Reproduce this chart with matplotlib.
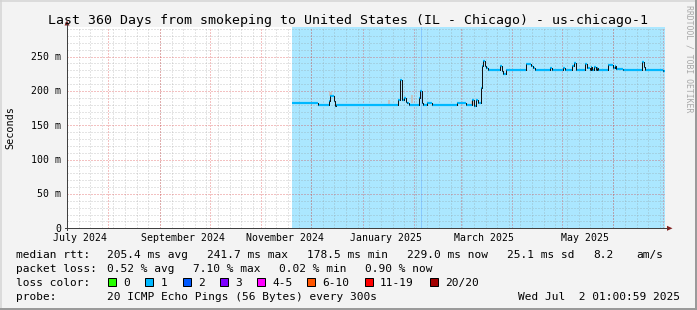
import datetime as dt
import matplotlib
matplotlib.use("Agg")
import matplotlib.pyplot as plt
from matplotlib.patches import Rectangle, Polygon
from matplotlib.lines import Line2D

# ---------------- data ----------------
title = "Last 360 Days from smokeping to United States (IL - Chicago) - us-chicago-1"
y_label = "Seconds"
side_label = "RRDTOOL / TOBI OETIKER"
y_ticks = [0, 50, 100, 150, 200, 250]
y_tick_labels = ["0", "50 m", "100 m", "150 m", "200 m", "250 m"]
x_label_months = [(2024, 7), (2024, 9), (2024, 11), (2025, 1), (2025, 3), (2025, 5)]
x_tick_labels = ["July 2024", "September 2024", "November 2024",
                 "January 2025", "March 2025", "May 2025"]

# median rtt (ms), step changes: day offset from graph start -> value
med_days = [135.3, 151.3, 157.9, 158.3, 160.8, 161.4, 161.8,
            199.5, 200.5, 201.7, 203.0, 204.1, 204.9, 206.0,
            212.1, 212.5, 213.5, 214.5, 216.6, 219.6,
            235.0, 240.2, 243.6, 245.0, 246.2, 247.2, 249.2, 249.6, 250.3, 251.5, 252.5, 253.5,
            260.7, 261.7, 262.5, 264.1, 276.4, 279.3, 280.5, 281.8, 290.8, 292.0,
            298.6, 299.8, 304.0, 305.2, 306.4, 311.9, 313.1, 314.9, 315.5, 316.1,
            317.3, 318.5, 319.1, 319.7, 325.7, 328.7, 329.9, 330.5, 334.7,
            346.1, 347.3, 347.9, 358.5]
med_ms = [183.0, 180.0, 186.0, 192.0, 185.0, 178.5, 179.7,
          187.0, 216.0, 187.0, 189.0, 184.0, 182.0, 179.7,
          190.0, 200.0, 183.0, 179.7, 182.0, 179.7,
          182.3, 179.7, 187.0, 178.5, 187.0, 182.0, 204.0, 236.0, 243.0, 236.0, 233.0, 230.7,
          235.6, 229.0, 225.0, 230.5, 239.5, 236.6, 233.3, 230.5, 233.5, 230.5,
          233.0, 230.5, 236.0, 240.6, 230.5, 239.5, 233.5, 230.0, 235.0, 231.0,
          234.5, 230.0, 233.0, 230.0, 237.0, 233.5, 236.0, 232.0, 230.0,
          241.7, 235.0, 230.0, 229.0]
data_end_day = 360.0

# smoke (rtt spread) visible above the median at a few places
smoke_days = [158.5, 193.9, 207.7, 244.0]
smoke_lo = [192.0, 180.0, 182.0, 180.0]
smoke_hi = [199.0, 187.0, 194.0, 186.0]

# loss background: loss "2" column
loss2_days = [213.5]

loss_labels = ["0", "1", "2", "3", "4-5", "6-10", "11-19", "20/20"]
loss_colors = ["#26ff00", "#00b8ff", "#0059ff", "#7e00ff", "#ff00ff",
               "#ff5500", "#ff0000", "#a10000"]

stats_rtt = ["205.4 ms avg", "241.7 ms max", "178.5 ms min", "229.0 ms now",
             "25.1 ms sd", "8.2", "am/s"]
stats_loss = ["0.52 % avg", "7.10 % max", "0.02 % min", "0.90 % now"]
probe_text = "20 ICMP Echo Pings (56 Bytes) every 300s"
stamp = "Wed Jul  2 01:00:59 2025"

# ---------------- layout ----------------
W, H = 697, 310
END = dt.datetime(2025, 7, 2, 1, 0, 59)
START = END - dt.timedelta(days=360)
MONO = "DejaVu Sans Mono"


def dday(d):
    return (d - START).total_seconds() / 86400.0


def fx(x):
    return x / W


def fy(y):
    return 1 - y / H


PX = 72.0 / 100  # one pixel in points

fig = plt.figure(figsize=(W / 100, H / 100), dpi=100, facecolor="#f3f3f3")
X0, X1, YB, YT = 67, 665, 228.3, 27.0
YMAX = 293.0
ax = fig.add_axes([fx(X0), fy(YB), (X1 - X0) / W, (YB - YT) / H])
ax.set_xlim(0, 360)
ax.set_ylim(0, YMAX)
ax.set_facecolor("white")
for s in ax.spines.values():
    s.set_visible(False)
ax.set_xticks([])
ax.set_yticks([])

# loss background
ax.axvspan(med_days[0], data_end_day, color="#00b8ff", alpha=0.33, lw=0, zorder=0)
for d in loss2_days:
    ax.axvspan(d - 0.3, d + 0.3, color="#0059ff", alpha=0.2, lw=0, zorder=0.5)

# grid
minor_c = (0.55, 0.55, 0.55, 0.45)
major_c = (0.85, 0.2, 0.2, 0.6)
dots = (0, (1, 2))
for v in range(10, int(YMAX) + 1, 10):
    if v % 50:
        ax.axhline(v, color=minor_c, lw=PX, ls=dots, zorder=1)
for v in y_ticks[1:]:
    ax.axhline(v, color=major_c, lw=PX, ls=dots, zorder=1.2)

d = dt.datetime(2024, 7, 14)
while d < END:
    ax.axvline(dday(d), color=minor_c, lw=PX, ls=dots, zorder=1)
    d += dt.timedelta(days=7)
y, m = 2024, 8
while dt.datetime(y, m, 1) < END:
    ax.axvline(dday(dt.datetime(y, m, 1)), color=major_c, lw=PX, ls=dots, zorder=1.2)
    m += 1
    if m > 12:
        m, y = 1, y + 1

# smoke
for sd, lo, hi in zip(smoke_days, smoke_lo, smoke_hi):
    ax.add_patch(Rectangle((sd - 0.8, lo), 1.6, hi - lo, color="#c4c4c4", lw=0, zorder=2))

# median line: black steps with loss-coloured horizontal segments
step_x = med_days + [data_end_day]
step_y = med_ms + [med_ms[-1]]
ax.hlines(med_ms, med_days, med_days[1:] + [data_end_day], color="#00b8ff",
          lw=2.2 * PX, zorder=3)
ax.step(step_x, step_y, where="post", color="#111111", lw=1.0 * PX, zorder=2.5)
ax.vlines(med_days[1:], med_ms[:-1], med_ms[1:], color="#111111", lw=1.0 * PX, zorder=4)

# axes lines and arrows
fig.add_artist(Line2D([fx(X0), fx(X0)], [fy(YB + 2), fy(24)], color="#404040", lw=PX))
fig.add_artist(Line2D([fx(X0 - 2), fx(667)], [fy(YB), fy(YB)], color="#404040", lw=PX))
fig.add_artist(Polygon([[fx(X0 - 2.5), fy(25.5)], [fx(X0 + 2.5), fy(25.5)], [fx(X0), fy(20.5)]],
                       closed=True, color="#7f1f1f", lw=0))
fig.add_artist(Polygon([[fx(667), fy(YB - 2.5)], [fx(667), fy(YB + 2.5)], [fx(672.5), fy(YB)]],
                       closed=True, color="#7f1f1f", lw=0))

# tick labels
for v, lab in zip(y_ticks, y_tick_labels):
    ypix = YB - v * (YB - YT) / YMAX
    fig.text(fx(61), fy(ypix + 3.4), lab, ha="right", va="baseline",
             fontsize=7.1, family=MONO, color="black")
for (yy, mm), lab in zip(x_label_months, x_tick_labels):
    xd = dday(dt.datetime(yy, mm, 15))
    xpix = X0 + xd * (X1 - X0) / 360
    fig.text(fx(xpix), fy(241), lab, ha="center", va="baseline",
             fontsize=7.1, family=MONO, color="black")

# title, axis label, side label
fig.text(fx(348), fy(24), title, ha="center", va="baseline", fontsize=9.5,
         family=MONO, color="black")
fig.text(fx(10), fy(128), y_label, rotation=90, ha="center", va="center",
         fontsize=7.3, family=MONO, color="black")
fig.text(fx(689), fy(59), side_label, rotation=270, ha="center", va="center",
         fontsize=5.9, family=MONO, color="#a8a8a8")

# legend
LF = 8.0
fig.text(fx(16), fy(258), "median rtt:", fontsize=LF, family=MONO, va="baseline")
for xp, t in zip([107.3, 207.3, 307.3, 407.3, 507.3, 593, 636], stats_rtt):
    fig.text(fx(xp), fy(258), t, fontsize=LF, family=MONO, va="baseline")
fig.text(fx(16), fy(272.2), "packet loss:", fontsize=LF, family=MONO, va="baseline")
for xp, t in zip([107.3, 193.3, 279.3, 365.3], stats_loss):
    fig.text(fx(xp), fy(272.2), t, fontsize=LF, family=MONO, va="baseline")
fig.text(fx(16), fy(286), "loss color:", fontsize=LF, family=MONO, va="baseline")
box_x = [108.3, 145.3, 182.7, 220, 257.3, 307.3, 365, 430]
for bx, lab, col in zip(box_x, loss_labels, loss_colors):
    fig.add_artist(Rectangle((fx(bx), fy(286)), 8 / W, 8.5 / H, facecolor=col,
                             edgecolor="black", lw=PX))
    fig.text(fx(bx + 15), fy(286), lab, fontsize=LF, family=MONO, va="baseline")
fig.text(fx(16), fy(300.2), "probe:", fontsize=LF, family=MONO, va="baseline")
fig.text(fx(107.3), fy(300.2), probe_text, fontsize=LF, family=MONO, va="baseline")
fig.text(fx(680), fy(300.2), stamp, fontsize=LF, family=MONO, va="baseline", ha="right")

# outer frame
fig.add_artist(Line2D([0, 1], [fy(0.5), fy(0.5)], color="#d4d4d4", lw=1.5 * PX))
fig.add_artist(Line2D([fx(0.5), fx(0.5)], [0, 1], color="#d4d4d4", lw=1.5 * PX))
fig.add_artist(Line2D([0, 1], [fy(309), fy(309)], color="#9a9a9a", lw=2 * PX))
fig.add_artist(Line2D([fx(696), fx(696)], [0, 1], color="#9a9a9a", lw=2 * PX))

fig.savefig("out.png", dpi=100, facecolor=fig.get_facecolor())
